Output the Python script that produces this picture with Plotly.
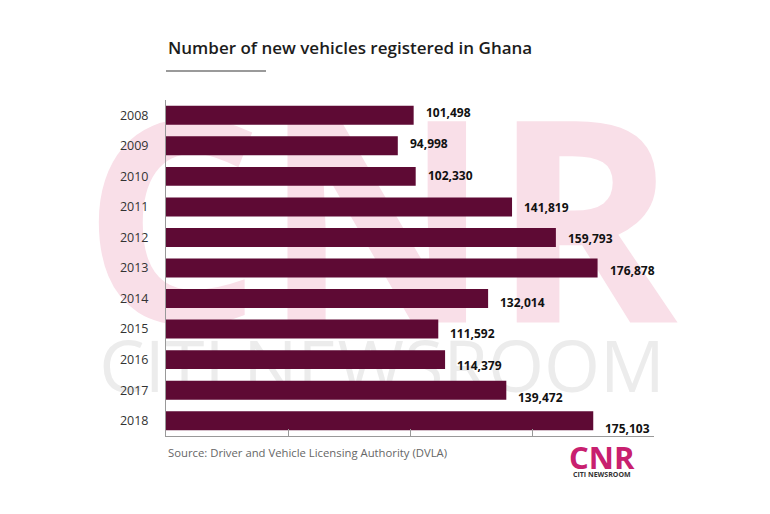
import plotly.graph_objects as go

years = ["2008", "2009", "2010", "2011", "2012", "2013", "2014", "2015", "2016", "2017", "2018"]
registrations = [101498, 94998, 102330, 141819, 159793, 176878, 132014, 111592, 114379, 139472, 175103]
x_ticks = [0, 50000, 100000, 150000, 200000]

W, H = 770, 514
L, R, T, B = 166, 116, 100, 78
PW, PH = W - L - R, H - T - B

BAR = "#5e0a34"
FONT = "Open Sans"

fig = go.Figure()

# Watermark on the base subplot (drawn beneath the bars)
fig.add_trace(go.Scatter(
    x=[380], y=[252], mode="text", text=["CNR"], cliponaxis=False,
    textfont=dict(family=FONT, size=282, color="#f9dfe8", weight=700),
    hoverinfo="skip", showlegend=False, xaxis="x", yaxis="y"))
fig.add_trace(go.Scatter(
    x=[382], y=[374], mode="text", text=["CITI NEWSROOM"], cliponaxis=False,
    textfont=dict(family=FONT, size=72, color="#ececec"),
    hoverinfo="skip", showlegend=False, xaxis="x", yaxis="y"))

# Bars
fig.add_trace(go.Bar(
    y=years, x=registrations, orientation="h", marker=dict(color=BAR, line=dict(width=0)),
    xaxis="x2", yaxis="y2", showlegend=False, hoverinfo="x+y"))

# Value labels
for i, v in enumerate(registrations):
    fig.add_annotation(
        x=v, y=i, xref="x2", yref="y2", text=f"{v:,}", showarrow=False,
        xanchor="left", yanchor="middle", xshift=10, yshift=3 - 1.1 * i,
        font=dict(family=FONT, size=12, color="#111111", weight=700))

n = len(years)
fig.update_layout(
    width=W, height=H, margin=dict(l=L, r=R, t=T, b=B),
    paper_bgcolor="white", plot_bgcolor="rgba(0,0,0,0)",
    bargap=0.38,
    xaxis=dict(range=[L, L + PW], visible=False, fixedrange=True),
    yaxis=dict(range=[T + PH, T], visible=False, fixedrange=True),
    xaxis2=dict(overlaying="x", range=[0, 200000], autorange=False, tickvals=x_ticks,
                showticklabels=False,
                ticks="inside", ticklen=7, tickcolor="#999999", tickwidth=1,
                showline=True, linecolor="#999999", linewidth=1, showgrid=False,
                zeroline=False, anchor="y2", fixedrange=True),
    yaxis2=dict(overlaying="y", type="category", categoryorder="array", categoryarray=years,
                range=[n - 0.5, -0.5], autorange=False, showline=True, linecolor="#999999",
                linewidth=1, ticks="", showgrid=False, anchor="x2", fixedrange=True,
                tickfont=dict(family=FONT, size=12.5, color="#333333"),
                ticklabelstandoff=14),
    annotations=list(fig.layout.annotations) + [
        dict(text="Number of new vehicles registered in Ghana", xref="paper", yref="paper",
             x=0, y=1.155, xanchor="left", yanchor="middle", showarrow=False,
             font=dict(family=FONT, size=17, color="#1c1c1c", weight=600)),
        dict(text="Source: Driver and Vehicle Licensing Authority (DVLA)", xref="paper", yref="paper",
             x=0, y=-0.05, xanchor="left", yanchor="middle", showarrow=False,
             font=dict(family=FONT, size=11.3, color="#666666")),
        dict(text="CNR", xref="paper", yref="paper", x=0.8934, y=-0.062,
             xanchor="center", yanchor="middle", showarrow=False,
             font=dict(family=FONT, size=31, color="#c8206f", weight=700)),
        dict(text="CITI NEWSROOM", xref="paper", yref="paper", x=0.8934, y=-0.114,
             xanchor="center", yanchor="middle", showarrow=False,
             font=dict(family=FONT, size=7, color="#333333", weight=700)),
    ],
    shapes=[dict(type="line", xref="paper", yref="paper", x0=0, x1=100 / PW,
                 y0=1.0863, y1=1.0863, line=dict(color="#9a9a9a", width=2))],
)

fig.write_html("out.html", config={"displayModeBar": False},
               post_script="document.body.style.margin='0';")
